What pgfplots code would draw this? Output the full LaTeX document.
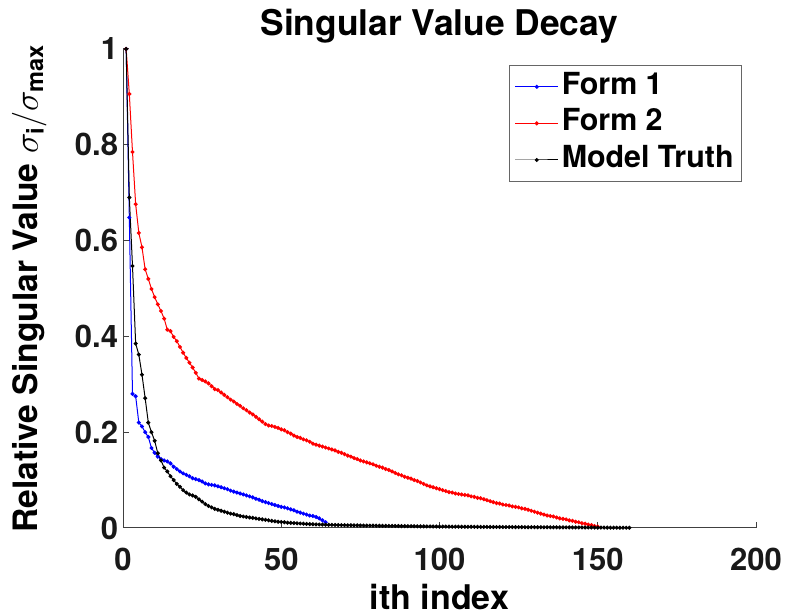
\documentclass[border=0pt]{standalone}
\usepackage{amsmath}
\usepackage{fontspec}
\setmainfont{TeX Gyre Heros}
\usepackage{pgfplots}
\pgfplotsset{compat=1.18}

\pgfplotstableread{
x y
1 1.0
2 0.648
3 0.280
4 0.275
5 0.220
6 0.212
7 0.200
8 0.190
9 0.167
10 0.157
11 0.149
12 0.144
13 0.141
14 0.139
15 0.135
16 0.128
17 0.123
18 0.118
19 0.114
20 0.111
21 0.108
22 0.104
23 0.102
24 0.100
25 0.097
26 0.093
27 0.091
28 0.090
29 0.089
30 0.087
31 0.085
32 0.083
33 0.081
34 0.078
35 0.076
36 0.074
37 0.072
38 0.070
39 0.068
40 0.066
41 0.064
42 0.061
43 0.059
44 0.056
45 0.054
46 0.052
47 0.050
48 0.048
49 0.046
50 0.044
51 0.043
52 0.041
53 0.039
54 0.037
55 0.034
56 0.032
57 0.030
58 0.028
59 0.026
60 0.025
61 0.023
62 0.020
63 0.016
64 0.012
}\formone

\pgfplotstableread{
x y
1 1.0
2 0.906
3 0.785
4 0.676
5 0.616
6 0.586
7 0.540
8 0.520
9 0.499
10 0.482
11 0.467
12 0.453
13 0.437
14 0.414
15 0.411
16 0.399
17 0.390
18 0.378
19 0.366
20 0.355
21 0.345
22 0.335
23 0.324
24 0.312
25 0.309
26 0.306
27 0.302
28 0.296
29 0.290
30 0.288
31 0.283
32 0.278
33 0.273
34 0.268
35 0.264
36 0.259
37 0.255
38 0.250
39 0.246
40 0.241
41 0.237
42 0.232
43 0.227
44 0.222
45 0.217
46 0.214
47 0.213
48 0.211
49 0.209
50 0.206
51 0.204
52 0.200
53 0.197
54 0.193
55 0.190
56 0.188
57 0.185
58 0.183
59 0.180
60 0.176
61 0.174
62 0.172
63 0.170
64 0.168
65 0.166
66 0.164
67 0.162
68 0.159
69 0.157
70 0.154
71 0.151
72 0.149
73 0.146
74 0.144
75 0.141
76 0.139
77 0.137
78 0.135
79 0.133
80 0.130
81 0.128
82 0.126
83 0.123
84 0.121
85 0.118
86 0.115
87 0.112
88 0.110
89 0.107
90 0.105
91 0.103
92 0.100
93 0.098
94 0.095
95 0.092
96 0.089
97 0.087
98 0.085
99 0.083
100 0.081
101 0.079
102 0.077
103 0.075
104 0.074
105 0.072
106 0.071
107 0.070
108 0.069
109 0.068
110 0.066
111 0.065
112 0.063
113 0.062
114 0.060
115 0.058
116 0.056
117 0.054
118 0.052
119 0.051
120 0.049
121 0.048
122 0.047
123 0.045
124 0.044
125 0.043
126 0.041
127 0.040
128 0.038
129 0.036
130 0.034
131 0.032
132 0.030
133 0.028
134 0.026
135 0.025
136 0.024
137 0.022
138 0.020
139 0.019
140 0.018
141 0.016
142 0.015
143 0.013
144 0.012
145 0.010
146 0.009
147 0.007
148 0.006
149 0.004
150 0.003
}\formtwo

\pgfplotstableread{
x y
1 1.0
2 0.690
3 0.547
4 0.385
5 0.362
6 0.320
7 0.271
8 0.220
9 0.200
10 0.182
11 0.156
12 0.141
13 0.126
14 0.118
15 0.108
16 0.100
17 0.092
18 0.086
19 0.079
20 0.074
21 0.070
22 0.068
23 0.065
24 0.060
25 0.055
26 0.050
27 0.046
28 0.043
29 0.040
30 0.038
31 0.036
32 0.034
33 0.032
34 0.030
35 0.029
36 0.027
37 0.025
38 0.024
39 0.023
40 0.022
41 0.021
42 0.020
43 0.019
44 0.018
45 0.017
46 0.016
47 0.015
48 0.014
49 0.013
50 0.0126
51 0.0120
52 0.0112
53 0.0108
54 0.0102
55 0.0098
56 0.0094
57 0.0090
58 0.0085
59 0.0080
60 0.0078
61 0.0075
62 0.0073
63 0.0071
64 0.0069
65 0.0067
66 0.0065
67 0.0063
68 0.0062
69 0.0060
70 0.0059
71 0.0057
72 0.0056
73 0.0055
74 0.0054
75 0.0053
76 0.0052
77 0.0051
78 0.0050
79 0.0049
80 0.0048
81 0.0047
82 0.0046
83 0.0045
84 0.0044
85 0.0043
86 0.0042
87 0.0041
88 0.0040
89 0.0039
90 0.0038
91 0.0037
92 0.0036
93 0.0035
94 0.0034
95 0.0034
96 0.0033
97 0.0032
98 0.0031
99 0.0031
100 0.0030
101 0.0029
102 0.0029
103 0.0028
104 0.0028
105 0.0027
106 0.0027
107 0.0026
108 0.0026
109 0.0025
110 0.0025
111 0.0024
112 0.0024
113 0.0023
114 0.0023
115 0.0022
116 0.0022
117 0.0021
118 0.0021
119 0.0020
120 0.0020
121 0.0020
122 0.0019
123 0.0019
124 0.0019
125 0.0018
126 0.0018
127 0.0017
128 0.0017
129 0.0017
130 0.0016
131 0.0016
132 0.0016
133 0.0015
134 0.0015
135 0.0015
136 0.0014
137 0.0014
138 0.0014
139 0.0013
140 0.0013
141 0.0012
142 0.0012
143 0.0012
144 0.0011
145 0.0011
146 0.0010
147 0.0010
148 0.0010
149 0.0009
150 0.0009
151 0.0008
152 0.0008
153 0.0008
154 0.0007
155 0.0007
156 0.0006
157 0.0006
158 0.0006
159 0.0005
160 0.0005
}\truth

\begin{document}
\begin{tikzpicture}
\begin{axis}[
  name=ax,
  at={(0,0)}, anchor=south west,
  scale only axis,
  width=316.5pt, height=239.5pt,
  xmin=0, xmax=200, ymin=0, ymax=1,
  xtick={0,50,100,150,200},
  ytick={0,0.2,0.4,0.6,0.8,1},
  axis lines*=left,
  axis line style={black!75, line width=0.5pt},
  tick style={black!75, line width=0.5pt},
  tick align=inside,
  major tick length=3pt,
  clip=false,
  /pgf/number format/assume math mode=true,
  tick label style={font=\bfseries\fontsize{15.5}{18}\selectfont, text=black!90},
  xticklabel style={inner sep=0pt, anchor=north, yshift=-10pt},
  yticklabel style={inner sep=0pt, anchor=east, xshift=-2.3pt},
  title={Singular Value Decay},
  every axis title/.style={font=\bfseries\fontsize{17.7}{20}\selectfont, at={(axis description cs:0.5,1.0292)}, anchor=base, inner sep=0pt},
  xlabel={ith index},
  xlabel style={font=\bfseries\fontsize{17}{20}\selectfont, at={(axis description cs:0.5,-0.1764)}, anchor=base, inner sep=0pt, yshift=1.5pt},
  ylabel={Relative Singular Value $\sigma_{\textbf{i}}/\sigma_{\textbf{max}}$},
  ylabel style={font=\bfseries\fontsize{16.8}{20}\selectfont, at={(axis description cs:-0.1343,0.5)}, rotate=0, anchor=base, inner sep=0pt},
  legend style={at={(0.978,0.9666)}, anchor=north east, draw=black!60, line width=0.5pt, fill=white,
    font=\bfseries\fontsize{15.2}{18}\selectfont, inner xsep=2.5pt, inner ysep=1.5pt, row sep=0pt,
    nodes={inner ysep=2pt, inner xsep=1.5pt, text height=10.8pt, text depth=3.5pt}},
  legend cell align=left,
  legend image code/.code={\draw[mark repeat=2, mark phase=2] plot coordinates {(0pt,0pt) (10.75pt,0pt) (21.5pt,0pt)};},
]
\addplot[blue, line width=0.5pt, mark=*, mark size=0.75pt] table[x=x,y=y] {\formone};
\addlegendentry{Form 1}
\addplot[red, line width=0.5pt, mark=*, mark size=0.75pt] table[x=x,y=y] {\formtwo};
\addlegendentry{Form 2}
\addplot[black, line width=0.5pt, mark=*, mark size=0.75pt] table[x=x,y=y] {\truth};
\addlegendentry{Model Truth}
\end{axis}
\pgfresetboundingbox
\useasboundingbox (-61.5pt,-43pt) rectangle (331.5pt,264pt);
\end{tikzpicture}
\end{document}
